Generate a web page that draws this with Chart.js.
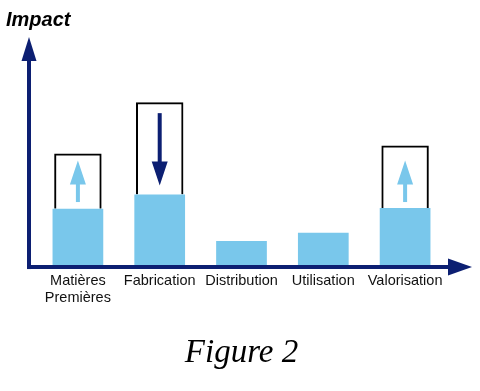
<!DOCTYPE html>
<html>
<head>
<meta charset="utf-8">
<script src="https://cdn.jsdelivr.net/npm/chart.js@4.4.1/dist/chart.umd.min.js"></script>
<style>
  html, body { margin: 0; padding: 0; background: #fff; }
  #wrap { width: 480px; height: 391px; }
</style>
</head>
<body>
<div id="wrap"><canvas id="chart"></canvas></div>
<script>
// étapes du cycle de vie
const etapes = [["Matières", "Premières"], "Fabrication", "Distribution", "Utilisation", "Valorisation"];
// impact de chaque étape (barres bleues)
const impact = [25, 31.3, 10.7, 14.3, 25.4];
// cadres au-dessus des barres
const marge = [24.6, 41, 0, 0, 27.7];
// flèches dans les cadres (début -> fin)
const flecheDebut = [28, 67.5, null, null, 28];
const flecheFin = [46.5, 35.3, null, null, 46.5];

const bleuClair = "#79c7eb";
const bleuFonce = "#0c1f72";

// Plugin pour les axes fléchés, le mot "Impact" et les flèches
const dessinAxes = {
  id: "dessinAxes",
  afterDatasetsDraw(chart) {
    const { ctx, chartArea, scales } = chart;
    const x0 = chartArea.left - 8;
    const y0 = chartArea.bottom + 2;
    ctx.save();
    ctx.strokeStyle = bleuFonce;
    ctx.fillStyle = bleuFonce;
    ctx.lineWidth = 4;

    // axe vertical
    ctx.beginPath();
    ctx.moveTo(x0, y0 + 2);
    ctx.lineTo(x0, chartArea.top + 20);
    ctx.stroke();
    ctx.beginPath();
    ctx.moveTo(x0, chartArea.top - 3);
    ctx.lineTo(x0 - 7.5, chartArea.top + 21);
    ctx.lineTo(x0 + 7.5, chartArea.top + 21);
    ctx.closePath();
    ctx.fill();

    // axe horizontal
    ctx.beginPath();
    ctx.moveTo(x0 - 2, y0);
    ctx.lineTo(chartArea.right + 4, y0);
    ctx.stroke();
    ctx.beginPath();
    ctx.moveTo(chartArea.right + 26, y0);
    ctx.lineTo(chartArea.right + 2, y0 - 8.5);
    ctx.lineTo(chartArea.right + 2, y0 + 8.5);
    ctx.closePath();
    ctx.fill();

    // libellé de l'axe
    ctx.fillStyle = "#000";
    ctx.font = "italic bold 20px 'Liberation Sans', Arial, sans-serif";
    ctx.textBaseline = "alphabetic";
    ctx.textAlign = "left";
    ctx.fillText("Impact", 6, 26);

    // flèches dans les cadres
    flecheDebut.forEach((debut, i) => {
      if (debut === null) return;
      const x = scales.x.getPixelForValue(i);
      const ys = scales.y.getPixelForValue(debut);
      const ye = scales.y.getPixelForValue(flecheFin[i]);
      const dir = ye < ys ? -1 : 1;
      const couleur = dir < 0 ? bleuClair : bleuFonce;
      const tete = 24;
      ctx.strokeStyle = couleur;
      ctx.fillStyle = couleur;
      ctx.lineWidth = 4;
      ctx.beginPath();
      ctx.moveTo(x, ys);
      ctx.lineTo(x, ye - dir * (tete - 2));
      ctx.stroke();
      ctx.beginPath();
      ctx.moveTo(x, ye);
      ctx.lineTo(x - 8, ye - dir * tete);
      ctx.lineTo(x + 8, ye - dir * tete);
      ctx.closePath();
      ctx.fill();
    });
    ctx.restore();
  },
};

new Chart(document.getElementById("chart"), {
  type: "bar",
  data: {
    labels: etapes,
    datasets: [
      {
        label: "Impact",
        data: impact,
        backgroundColor: bleuClair,
        borderWidth: 0,
      },
      {
        label: "Marge",
        data: marge,
        backgroundColor: "rgba(255, 255, 255, 0)",
        borderColor: "#000",
        borderWidth: 2,
        borderSkipped: "bottom",
        barPercentage: 0.58,
      },
    ],
  },
  plugins: [dessinAxes],
  options: {
    responsive: true,
    maintainAspectRatio: false,
    animation: false,
    layout: {
      padding: { left: 37, right: 34, top: 40, bottom: 0 },
    },
    plugins: {
      legend: { display: false },
      tooltip: { enabled: false },
      title: {
        display: true,
        position: "bottom",
        text: "Figure 2",
        color: "#000",
        font: { family: "'Liberation Serif', 'Times New Roman', serif", style: "italic", weight: "normal", size: 33 },
        padding: { top: 27, bottom: 18 },
      },
    },
    datasets: {
      bar: { categoryPercentage: 1, barPercentage: 0.62 },
    },
    scales: {
      x: {
        stacked: true,
        grid: { display: false },
        border: { display: false },
        ticks: {
          color: "#111",
          padding: 0,
          maxRotation: 0,
          autoSkip: false,
          font: { family: "'Liberation Sans', Arial, sans-serif", size: 14.5, lineHeight: 1.15 },
        },
      },
      y: {
        stacked: true,
        display: false,
        min: 0,
        max: 100,
      },
    },
  },
});
</script>
</body>
</html>
